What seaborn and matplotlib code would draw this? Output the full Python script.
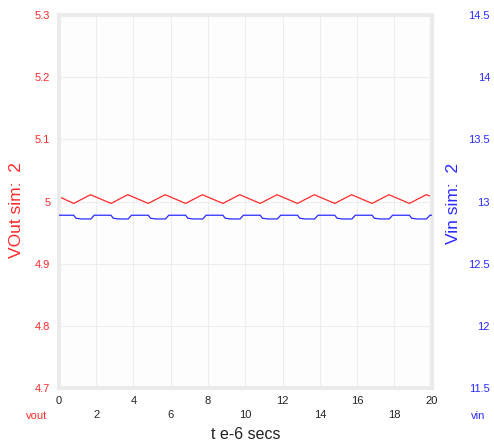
import numpy as np
import pandas as pd
import matplotlib
matplotlib.use("Agg")
import matplotlib.pyplot as plt
import seaborn as sns

# vout trace (left axis), triangle ripple
vout_t = [0, 0.8, 1.7, 2.8, 3.7, 4.8, 5.7, 6.8, 7.7, 8.8, 9.7, 10.8, 11.7,
          12.8, 13.7, 14.8, 15.7, 16.8, 17.7, 18.8, 19.7, 20]
vout_v = [5.008, 4.997, 5.011, 4.997, 5.011, 4.997, 5.011, 4.997, 5.011,
          4.997, 5.011, 4.997, 5.011, 4.997, 5.011, 4.997, 5.011, 4.997,
          5.011, 4.997, 5.011, 5.008]

# vin trace (right axis), stepped ripple
vin_t = [0,
         0.8, 0.92, 1.2, 1.72, 1.9,
         2.8, 2.92, 3.2, 3.72, 3.9,
         4.8, 4.92, 5.2, 5.72, 5.9,
         6.8, 6.92, 7.2, 7.72, 7.9,
         8.8, 8.92, 9.2, 9.72, 9.9,
         10.8, 10.92, 11.2, 11.72, 11.9,
         12.8, 12.92, 13.2, 13.72, 13.9,
         14.8, 14.92, 15.2, 15.72, 15.9,
         16.8, 16.92, 17.2, 17.72, 17.9,
         18.8, 18.92, 19.2, 19.72, 19.9,
         20]
vin_v = [12.89,
         12.89, 12.866, 12.86, 12.86, 12.89,
         12.89, 12.866, 12.86, 12.86, 12.89,
         12.89, 12.866, 12.86, 12.86, 12.89,
         12.89, 12.866, 12.86, 12.86, 12.89,
         12.89, 12.866, 12.86, 12.86, 12.89,
         12.89, 12.866, 12.86, 12.86, 12.89,
         12.89, 12.866, 12.86, 12.86, 12.89,
         12.89, 12.866, 12.86, 12.86, 12.89,
         12.89, 12.866, 12.86, 12.86, 12.89,
         12.89, 12.866, 12.86, 12.86, 12.89,
         12.89]

x_ticks = [0, 2, 4, 6, 8, 10, 12, 14, 16, 18, 20]
left_ticks = [4.7, 4.8, 4.9, 5.0, 5.1, 5.2, 5.3]
left_labels = ["4.7", "4.8", "4.9", "5", "5.1", "5.2", "5.3"]
right_ticks = [11.5, 12, 12.5, 13, 13.5, 14, 14.5]
right_labels = ["11.5", "12", "12.5", "13", "13.5", "14", "14.5"]

red = "#ff2a2a"
blue = "#2a2aff"

sns.set_style("white")
plt.rcParams["font.family"] = ["Liberation Sans", "DejaVu Sans"]

fig = plt.figure(figsize=(4.94, 4.42), dpi=100)
ax = fig.add_axes([0.119, 0.122, 0.755, 0.844])
ax.set_facecolor("#fdfdfd")
ax2 = ax.twinx()

sns.lineplot(x=vout_t, y=vout_v, ax=ax, color=red, linewidth=0.9)
sns.lineplot(x=vin_t, y=vin_v, ax=ax2, color=blue, linewidth=0.9)

ax.set_xlim(0, 20)
ax.set_ylim(4.7, 5.3)
ax2.set_ylim(11.5, 14.5)

# alternate tick labels over two rows
xl = [str(t) if i % 2 == 0 else "\n" + str(t) for i, t in enumerate(x_ticks)]
ax.set_xticks(x_ticks)
ax.set_xticklabels(xl, fontsize=8, color="#222222", linespacing=1.5)
ax.set_yticks(left_ticks)
ax.set_yticklabels(left_labels, fontsize=8, color=red)
ax2.set_yticks(right_ticks)
ax2.set_yticklabels(right_labels, fontsize=8, color=blue)
for lab in ax2.get_yticklabels():
    lab.set_horizontalalignment("right")

ax.tick_params(axis="both", length=0, pad=6)
ax2.tick_params(axis="y", length=0, pad=42)

ax.grid(True, color="#ededed", linewidth=0.8)
ax2.grid(False)
for sp in ax.spines.values():
    sp.set_color("#ebebeb")
    sp.set_linewidth(3)
for sp in ax2.spines.values():
    sp.set_visible(False)

ax.set_ylabel("VOut sim:  2", color=red, fontsize=12.5)
ax.yaxis.set_label_coords(-0.094, 0.477)
ax2.set_ylabel("Vin sim:  2", color=blue, fontsize=12.5)
ax2.yaxis.set_label_coords(1.038, 0.496)
ax.set_xlabel("t e-6 secs", fontsize=11.5, color="#222222", labelpad=5)

fig.text(0.075, 0.052, "vout", color=red, fontsize=8, ha="center")
fig.text(0.967, 0.052, "vin", color=blue, fontsize=8, ha="center")

fig.savefig("out.png", dpi=100)
